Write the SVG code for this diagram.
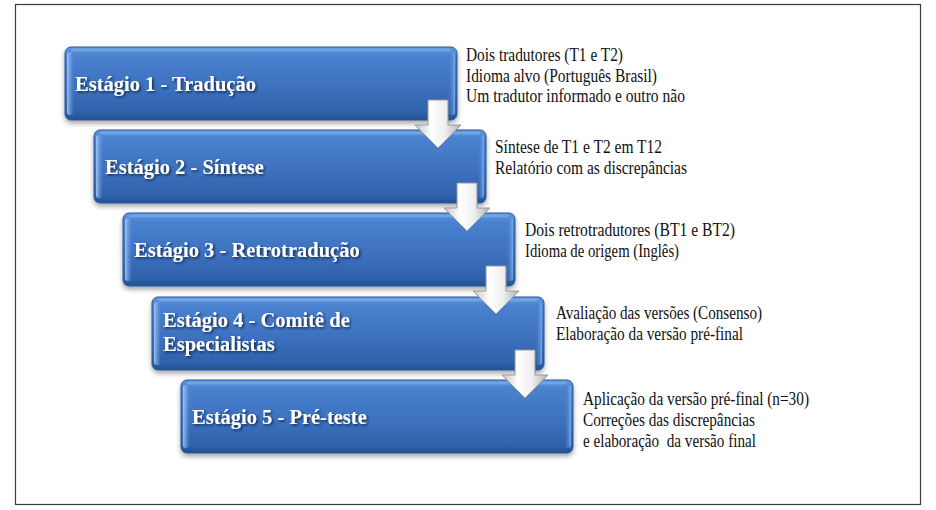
<svg xmlns="http://www.w3.org/2000/svg" width="936" height="510" viewBox="0 0 936 510">
<defs>
<linearGradient id="boxg" x1="0" y1="0" x2="0" y2="1">
<stop offset="0" stop-color="#5f97de"/>
<stop offset="0.12" stop-color="#4a82cf"/>
<stop offset="0.6" stop-color="#3b6fbd"/>
<stop offset="0.9" stop-color="#2f61ab"/>
<stop offset="1" stop-color="#23508f"/>
</linearGradient>
<linearGradient id="edgeL" x1="0" y1="0" x2="1" y2="0">
<stop offset="0" stop-color="#a9cdf5" stop-opacity="0.9"/>
<stop offset="1" stop-color="#6fa2e4" stop-opacity="0"/>
</linearGradient>
<linearGradient id="edgeR" x1="0" y1="0" x2="1" y2="0">
<stop offset="0" stop-color="#3a6fbe" stop-opacity="0"/>
<stop offset="1" stop-color="#7fb0ec" stop-opacity="0.9"/>
</linearGradient>
<linearGradient id="arrg" x1="0" y1="0" x2="1" y2="0">
<stop offset="0" stop-color="#c4c4c4"/>
<stop offset="0.35" stop-color="#ffffff"/>
<stop offset="0.65" stop-color="#efefef"/>
<stop offset="1" stop-color="#b0b0b0"/>
</linearGradient>
<filter id="sh" x="-5%" y="-20%" width="110%" height="150%">
<feDropShadow dx="0" dy="3" stdDeviation="2.5" flood-color="#000" flood-opacity="0.35"/>
</filter>
<filter id="tsh" x="-5%" y="-30%" width="110%" height="160%">
<feDropShadow dx="1.5" dy="1.5" stdDeviation="0.8" flood-color="#0a1e3c" flood-opacity="0.85"/>
</filter>
<g id="box">
<rect x="0" y="0" width="392" height="73" rx="6" fill="url(#boxg)" stroke="#2a5898" stroke-width="1"/>
<rect x="2" y="5" width="7" height="63" rx="3" fill="url(#edgeL)"/>
<rect x="383" y="5" width="7" height="63" rx="3" fill="url(#edgeR)"/>
<rect x="6" y="1.5" width="380" height="3" rx="1.5" fill="#8ab8ee" opacity="0.5"/>
</g>
<path id="arrow" d="M-10,0 H10 V25 H23 L0,48 L-23,25 H-10 Z"/>
</defs>
<style>
.title{font-family:"Liberation Serif","DejaVu Serif",serif;font-weight:bold;font-size:20.5px;fill:#ffffff;filter:url(#tsh)}
.note{font-family:"Liberation Serif","DejaVu Serif",serif;font-weight:normal;font-size:18px;fill:#111111}
.arr{fill:url(#arrg);stroke:#999999;stroke-width:1}
</style>
<rect x="15.5" y="4.5" width="905" height="500" fill="#ffffff" stroke="#3a3a3a" stroke-width="1.2"/>

<g id="stage1">
<use href="#box" x="65" y="47" filter="url(#sh)"/>
<text class="title" x="75" y="91">Estágio 1 - Tradução</text>
</g>
<g id="stage2">
<use href="#box" x="94" y="130" filter="url(#sh)"/>
<text class="title" x="105" y="174">Estágio 2 - Síntese</text>
</g>
<g id="stage3">
<use href="#box" x="123" y="213" filter="url(#sh)"/>
<text class="title" x="134" y="257">Estágio 3 - Retrotradução</text>
</g>
<g id="stage4">
<use href="#box" x="152" y="297" filter="url(#sh)"/>
<text class="title" x="163" y="327">Estágio 4 - Comitê de</text>
<text class="title" x="163" y="351">Especialistas</text>
</g>
<g id="stage5">
<use href="#box" x="181" y="380" filter="url(#sh)"/>
<text class="title" x="192" y="424">Estágio 5 - Pré-teste</text>
</g>

<g id="connectors">
<use href="#arrow" class="arr" x="438" y="100"/>
<use href="#arrow" class="arr" x="467" y="183"/>
<use href="#arrow" class="arr" x="496" y="266"/>
<use href="#arrow" class="arr" x="525" y="350"/>
</g>

<g id="notes1">
<text class="note" x="466" y="61" textLength="157" lengthAdjust="spacingAndGlyphs">Dois tradutores (T1 e T2)</text>
<text class="note" x="466" y="82" textLength="191" lengthAdjust="spacingAndGlyphs">Idioma alvo (Português Brasil)</text>
<text class="note" x="466" y="102" textLength="219" lengthAdjust="spacingAndGlyphs">Um tradutor informado e outro não</text>
</g>
<g id="notes2">
<text class="note" x="495" y="153" textLength="167" lengthAdjust="spacingAndGlyphs">Síntese de T1 e T2 em T12</text>
<text class="note" x="495" y="174" textLength="192" lengthAdjust="spacingAndGlyphs">Relatório com as discrepâncias</text>
</g>
<g id="notes3">
<text class="note" x="525" y="236" textLength="210" lengthAdjust="spacingAndGlyphs">Dois retrotradutores (BT1 e BT2)</text>
<text class="note" x="525" y="257" textLength="154" lengthAdjust="spacingAndGlyphs">Idioma de origem (Inglês)</text>
</g>
<g id="notes4">
<text class="note" x="556" y="319" textLength="206" lengthAdjust="spacingAndGlyphs">Avaliação das versões (Consenso)</text>
<text class="note" x="556" y="340" textLength="187" lengthAdjust="spacingAndGlyphs">Elaboração da versão pré-final</text>
</g>
<g id="notes5">
<text class="note" x="583" y="405" textLength="226" lengthAdjust="spacingAndGlyphs">Aplicação da versão pré-final (n=30)</text>
<text class="note" x="583" y="426" textLength="172" lengthAdjust="spacingAndGlyphs">Correções das discrepâncias</text>
<text class="note" x="583" y="447" textLength="173" lengthAdjust="spacingAndGlyphs" xml:space="preserve">e elaboração  da versão final</text>
</g>
</svg>
